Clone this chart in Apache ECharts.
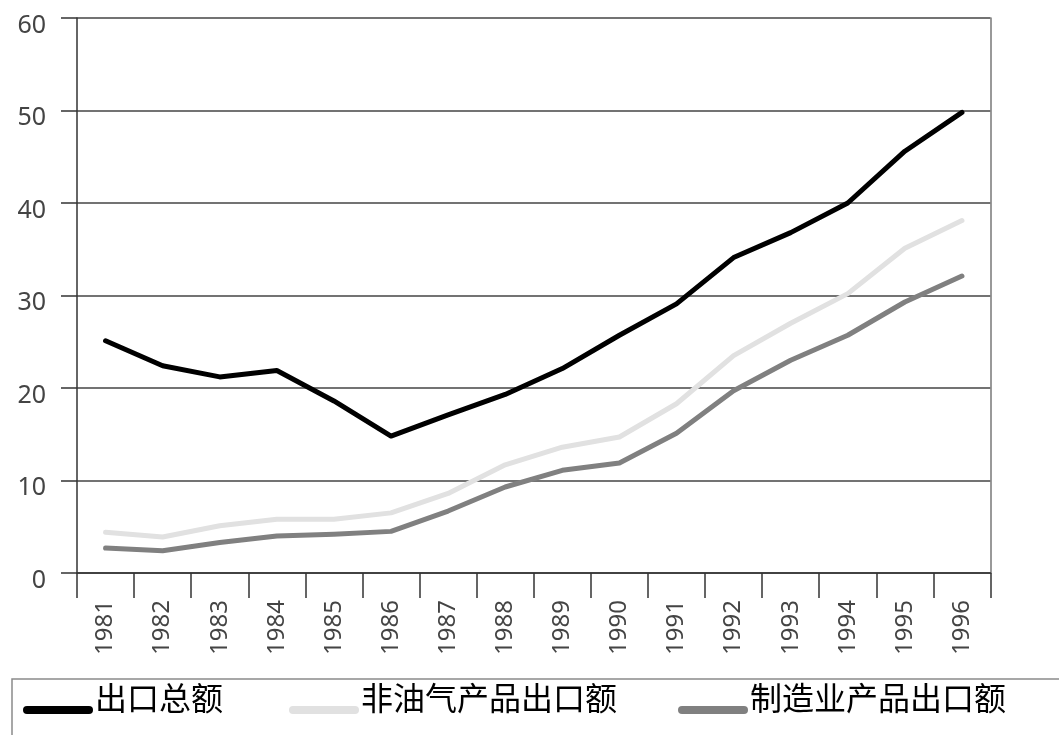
<!DOCTYPE html>
<html>
<head>
<meta charset="utf-8">
<script src="https://cdn.jsdelivr.net/npm/echarts@6/dist/echarts.min.js"></script>
<style>html,body{margin:0;padding:0;background:#fff;}#c{width:1059px;height:735px;}</style>
</head>
<body>
<div id="c"></div>
<script>
const years = ['1981','1982','1983','1984','1985','1986','1987','1988','1989','1990','1991','1992','1993','1994','1995','1996'];
const totalExports = [25.1, 22.4, 21.2, 21.9, 18.6, 14.8, 17.1, 19.3, 22.1, 25.7, 29.1, 34.1, 36.8, 40.0, 45.6, 49.8];
const nonOilExports = [4.4, 3.9, 5.1, 5.8, 5.8, 6.5, 8.6, 11.7, 13.6, 14.7, 18.3, 23.5, 27.0, 30.2, 35.1, 38.1];
const manufExports = [2.7, 2.4, 3.3, 4.0, 4.2, 4.5, 6.7, 9.3, 11.1, 11.9, 15.1, 19.7, 23.0, 25.7, 29.3, 32.1];
const seriesNames = ['出口总额', '非油气产品出口额', '制造业产品出口额'];
const yTicks = { min: 0, max: 60, interval: 10 };

const colors = ['#000000', '#e1e1e1', '#808080'];
const chart = echarts.init(document.getElementById('c'), null, { renderer: 'canvas' });

const legendIcon = 'path://M0,0 M4,24 L66,24 A4,4 0 0 1 66,32 L4,32 A4,4 0 0 1 4,24 Z M70,0';

function legendFor(i, left) {
  return {
    left: left, top: 682, padding: 0,
    data: [seriesNames[i]],
    icon: legendIcon, itemWidth: 70, itemHeight: 32, itemGap: 0,
    selectedMode: false,
    textStyle: { fontFamily: 'Noto Sans CJK SC', fontSize: 32, lineHeight: 32, color: '#000', padding: [0, 0, 0, -3] }
  };
}

function lineSeries(i, data) {
  return {
    name: seriesNames[i], type: 'line', data: data,
    symbol: 'none', smooth: false,
    lineStyle: { color: colors[i], width: 5, cap: 'round', join: 'round' },
    itemStyle: { color: colors[i] },
    z: 3 + (2 - i)
  };
}

chart.setOption({
  animation: false,
  backgroundColor: '#fff',
  grid: { left: 77, right: 68.5, top: 18, bottom: 162, containLabel: false },
  legend: [legendFor(0, 23), legendFor(1, 289), legendFor(2, 678)],
  graphic: [{
    type: 'rect', shape: { x: 12, y: 679, width: 1100, height: 100 },
    style: { fill: 'none', stroke: '#8a8a8a', lineWidth: 1.5 }, silent: true
  }],
  xAxis: {
    type: 'category', data: years, boundaryGap: true,
    axisLine: { show: true, lineStyle: { color: '#333', width: 1.5 } },
    axisTick: { show: true, length: 25, lineStyle: { color: '#333', width: 1.5 } },
    axisLabel: { rotate: 90, margin: 27, fontSize: 24, color: '#444', fontFamily: 'Noto Sans' },
    splitLine: { show: false }
  },
  yAxis: [{
    type: 'value', min: yTicks.min, max: yTicks.max, interval: yTicks.interval,
    axisLine: { show: true, lineStyle: { color: '#333', width: 1.5 } },
    axisTick: { show: true, length: 16, lineStyle: { color: '#333', width: 1.5 } },
    axisLabel: { margin: 31, fontSize: 25, color: '#444', fontFamily: 'Noto Sans', verticalAlign: 'top', lineHeight: 15 },
    splitLine: { show: true, lineStyle: { color: '#444', width: 1.5 } }
  }, {
    type: 'value', position: 'right', min: yTicks.min, max: yTicks.max, interval: yTicks.interval,
    axisLine: { show: true, lineStyle: { color: '#777', width: 1.5 } },
    axisTick: { show: false }, axisLabel: { show: false }, splitLine: { show: false }
  }],
  series: [lineSeries(0, totalExports), lineSeries(1, nonOilExports), lineSeries(2, manufExports)]
});
</script>
</body>
</html>
